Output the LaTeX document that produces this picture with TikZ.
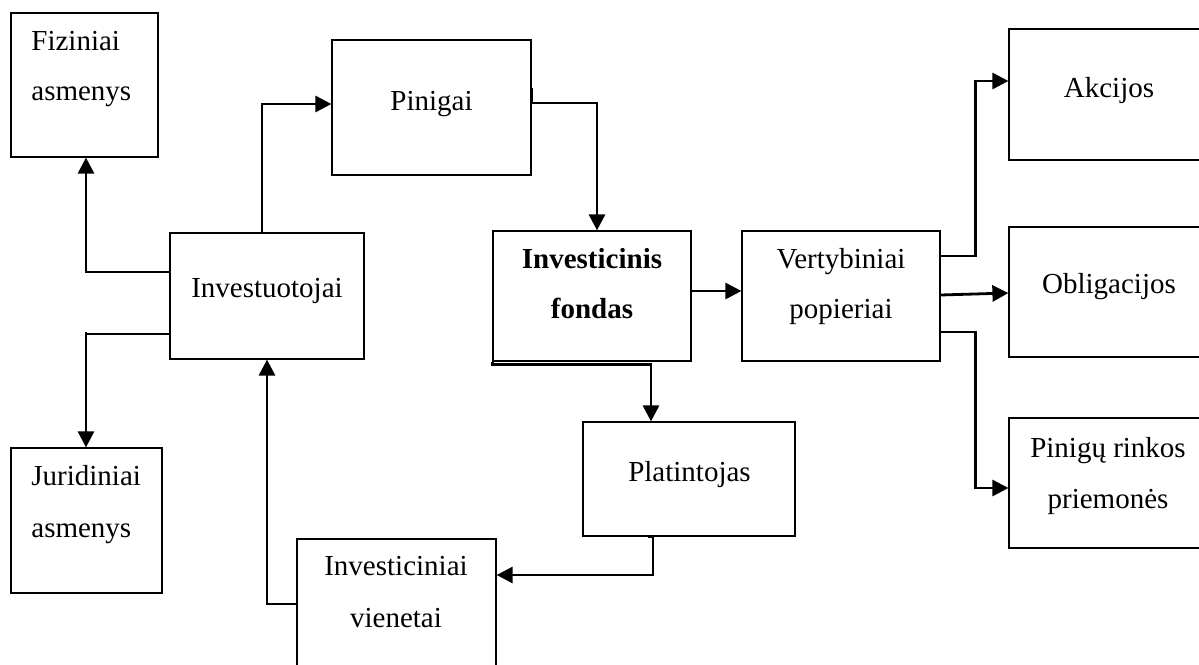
\documentclass[tikz,border=0pt]{standalone}
\usepackage{fontspec}
\setmainfont{Liberation Serif}
\usetikzlibrary{arrows.meta,calc}
\begin{document}
\begin{tikzpicture}[x=0.5pt,y=-0.5pt,
  bx/.style={draw,line width=0.6pt,inner sep=0pt,fill=none},
  sz/.style 2 args={minimum width=#1*0.5pt,minimum height=#2*0.5pt},
  txt/.style={inner sep=0pt,anchor=base,font=\fontsize{14.5}{17}\selectfont},
  txtl/.style={txt,anchor=base west},
  arr/.style={line width=1.4pt,-{Triangle[length=8pt,width=8pt]}},
  thn/.style={line width=0.6pt}]
\useasboundingbox (0,0) rectangle (1199,664);
% boxes
\node[bx,sz={147}{144}] (fiz) at (84.5,85) {};
\node[bx,sz={151}{145}] (jur) at (86.5,520.5) {};
\node[bx,sz={194}{126}] (inv) at (267,296) {};
\node[bx,sz={199}{135}] (pin) at (431.5,107.5) {};
\node[bx,sz={198}{130}] (fond) at (592,296) {};
\node[bx,sz={198}{130}] (vert) at (841,296) {};
\node[bx,sz={198}{131}] (akc) at (1108,94.5) {};
\node[bx,sz={198}{130}] (obl) at (1108,292) {};
\node[bx,sz={198}{130}] (pnr) at (1108,483) {};
\node[bx,sz={212}{114}] (plat) at (689,479) {};
\node[bx,sz={199}{130}] (ivn) at (396.5,604) {};
% texts
\node[txtl] (fiz1) at (31,50) {Fiziniai};
\node[txtl] (fiz2) at (31,100) {asmenys};
\node[txtl] (jur1) at (31,485) {Juridiniai};
\node[txtl] (jur2) at (31,537) {asmenys};
\node[txt] (inv1) at (267,297) {Investuotojai};
\node[txt] (pin1) at (431.5,110) {Pinigai};
\node[txt,font=\fontsize{14.5}{17}\selectfont\bfseries] (fond1) at (592,268) {Investicinis};
\node[txt,font=\fontsize{14.5}{17}\selectfont\bfseries] (fond2) at (592,318) {fondas};
\node[txt] (vert1) at (841,268) {Vertybiniai};
\node[txt] (vert2) at (841,318) {popieriai};
\node[txt] (akc1) at (1109,97) {Akcijos};
\node[txt] (obl1) at (1109,293) {Obligacijos};
\node[txt] (pnr1) at (1108,457) {Pinigų rinkos};
\node[txt] (pnr2) at (1108,508) {priemonės};
\node[txt] (plat1) at (689.5,481) {Platintojas};
\node[txt] (ivn1) at (396,575) {Investiciniai};
\node[txt] (ivn2) at (396,627) {vienetai};
% connectors
\coordinate (c1) at (86,272);
\coordinate (c2) at (86,334);
\draw[thn] (inv.west |- c1) -- (c1);
\draw[arr] ([yshift=-0.3pt]c1) -- (c1 |- fiz.south);
\draw[thn] (inv.west |- c2) -- (c2);
\draw[arr] ([yshift=1pt]c2) -- (c2 |- jur.north);
\draw[arr] (inv.north -| 262,0) |- (pin.west |- 0,104);
\draw[arr] (pin.east |- 0,88) -- (pin.east |- 0,103) -| (fond.north -| 597,0);
\draw[arr] (fond.east |- 0,291) -- (vert.west |- 0,291);
\draw[arr] (vert.east |- 0,256) -- ++(35,0) |- (akc.west |- 0,81);
\draw[arr] (vert.east |- 0,295) -- (obl.west |- 0,293);
\draw[arr] (vert.east |- 0,332) -- ++(35,0) |- (pnr.west |- 0,488);
\draw[arr] (fond.south west) -- ++(0,3) -| (plat.north -| 651,0);
\draw[arr] (plat.south -| 648,0) -- (plat.south -| 653,0) |- (ivn.east |- 0,575);
\draw[arr] (ivn.west |- 0,604) -| (inv.south -| 267,0);
\end{tikzpicture}
\end{document}
